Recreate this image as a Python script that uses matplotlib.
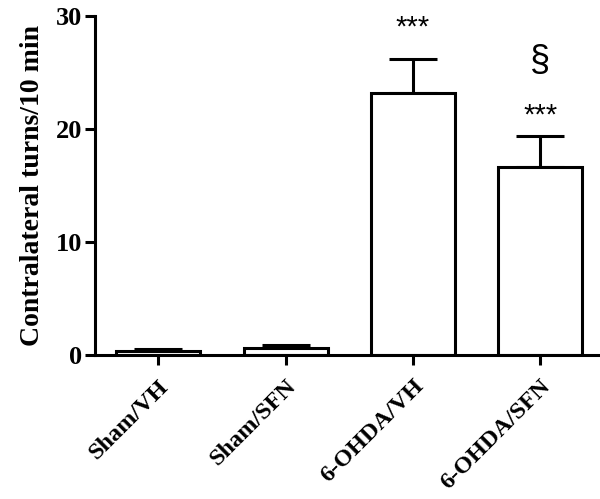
import matplotlib
matplotlib.use("Agg")
import matplotlib.pyplot as plt

categories = ["Sham/VH", "Sham/SFN", "6-OHDA/VH", "6-OHDA/SFN"]
means = [0.35, 0.6, 23.2, 16.6]
sems = [0.15, 0.3, 3.0, 2.8]
annotations = ["", "", "***", "***"]
annot_y = [0, 0, 29.0, 21.2]
extra_text = "§"
extra_y = 26.0

fig = plt.figure(figsize=(6.0, 4.99), dpi=100)
ax = fig.add_axes([0.158, 0.289, 0.842, 0.679])

lw = 2.2
x = list(range(len(categories)))
ax.bar(x, means, width=0.66, color="white", edgecolor="black", linewidth=lw, zorder=2)
ax.errorbar(x, means, yerr=[[0]*len(sems), sems], fmt="none", ecolor="black",
            elinewidth=lw, capsize=17, capthick=lw, zorder=1)

for xi, a, yy in zip(x, annotations, annot_y):
    if a:
        ax.text(xi, yy, a, ha="center", va="center", fontsize=21, family="Liberation Sans")
ax.text(3, extra_y, extra_text, ha="center", va="center", fontsize=26, family="Liberation Sans")

ax.set_xlim(-0.5, 3.47)
ax.set_ylim(0, 30)
ax.set_yticks([0, 10, 20, 30])
ax.set_xticks(x)
ax.set_xticklabels(categories, rotation=45, ha="right", rotation_mode="anchor",
                   fontsize=17.5, fontweight="bold", family="Liberation Serif")
for lab in ax.get_yticklabels():
    lab.set_fontsize(19)
    lab.set_fontweight("bold")
    lab.set_family("Liberation Serif")
ax.set_ylabel("Contralateral turns/10 min", fontsize=20, fontweight="bold",
              family="Liberation Serif", labelpad=8)

ax.spines["top"].set_visible(False)
ax.spines["right"].set_visible(False)
ax.spines["left"].set_linewidth(lw)
ax.spines["bottom"].set_linewidth(lw)
ax.tick_params(axis="both", direction="out", width=lw, length=7, pad=2)
ax.tick_params(axis="x", pad=8)

fig.savefig("out.png", dpi=100, facecolor="white")
